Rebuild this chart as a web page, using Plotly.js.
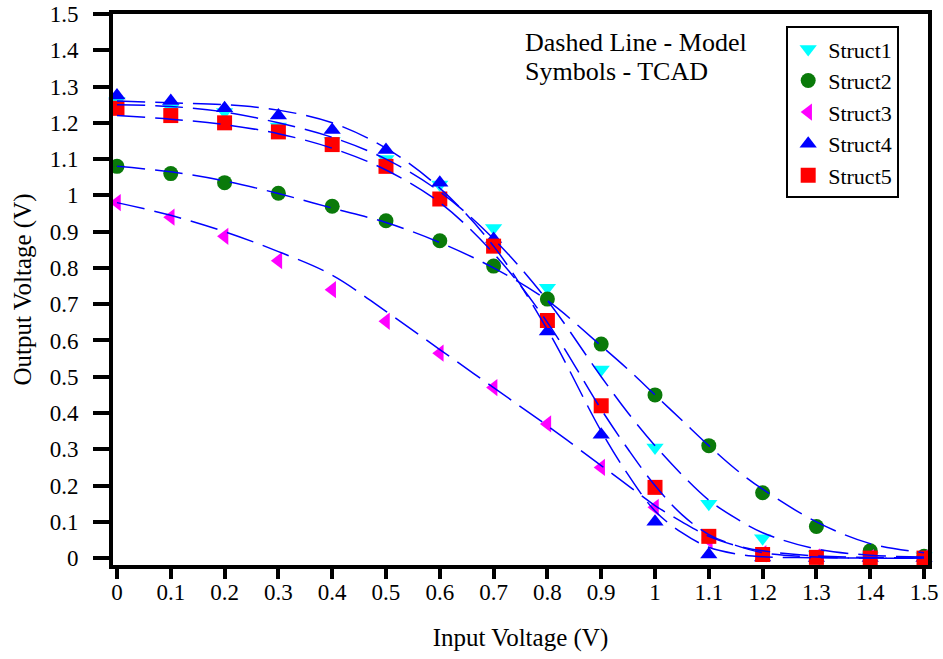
<!DOCTYPE html>
<html>
<head>
<meta charset="utf-8">
<script src="https://cdn.plot.ly/plotly-3.0.1.min.js"></script>
<style>html,body{margin:0;padding:0;background:#fff;}#chart{width:943px;height:659px;}</style>
</head>
<body>
<div id="chart"></div>
<script>
// TCAD sample points (symbols)
const vin = [0, 0.1, 0.2, 0.3, 0.4, 0.5, 0.6, 0.7, 0.8, 0.9, 1.0, 1.1, 1.2, 1.3, 1.4, 1.5];
const struct1 = [1.26, 1.24, 1.23, 1.19, 1.15, 1.10, 1.03, 0.91, 0.745, 0.52, 0.305, 0.15, 0.055, 0.01, 0.005, 0.005];
const struct2 = [1.08, 1.06, 1.035, 1.006, 0.97, 0.93, 0.875, 0.805, 0.714, 0.59, 0.45, 0.31, 0.18, 0.087, 0.02, 0.005];
const struct3 = [0.98, 0.94, 0.887, 0.82, 0.74, 0.653, 0.565, 0.47, 0.37, 0.25, 0.14, 0.05, 0.012, 0.003, 0.001, 0.0];
const struct4 = [1.275, 1.26, 1.24, 1.22, 1.18, 1.125, 1.035, 0.88, 0.625, 0.34, 0.10, 0.01, 0.002, 0.0, 0.0, 0.0];
const struct5 = [1.24, 1.22, 1.20, 1.175, 1.14, 1.08, 0.99, 0.86, 0.655, 0.42, 0.195, 0.06, 0.01, 0.002, 0.0, 0.0];

// Model curves (dashed lines)
const vinModel = [0, 0.1, 0.2, 0.3, 0.4, 0.5, 0.6, 0.7, 0.8, 0.9, 0.95, 1.0, 1.05, 1.1, 1.15, 1.2, 1.3, 1.4, 1.5];
const model1 = [1.25, 1.245, 1.23, 1.20, 1.16, 1.10, 1.01, 0.88, 0.71, 0.50, 0.40, 0.31, 0.23, 0.16, 0.11, 0.07, 0.025, 0.008, 0.003];
const model2 = [1.08, 1.065, 1.04, 1.005, 0.965, 0.925, 0.87, 0.80, 0.71, 0.585, 0.52, 0.45, 0.38, 0.31, 0.245, 0.19, 0.10, 0.04, 0.015];
const model3 = [0.98, 0.945, 0.90, 0.845, 0.78, 0.68, 0.575, 0.47, 0.365, 0.255, 0.2, 0.145, 0.10, 0.06, 0.035, 0.02, 0.006, 0.002, 0.0];
const model4 = [1.26, 1.255, 1.25, 1.235, 1.20, 1.13, 1.02, 0.86, 0.63, 0.35, 0.23, 0.13, 0.07, 0.03, 0.012, 0.004, 0.001, 0.0, 0.0];
const model5 = [1.22, 1.21, 1.195, 1.17, 1.13, 1.07, 0.98, 0.84, 0.65, 0.41, 0.3, 0.20, 0.12, 0.065, 0.035, 0.015, 0.003, 0.0, 0.0];

const tickVals = [0, 0.1, 0.2, 0.3, 0.4, 0.5, 0.6, 0.7, 0.8, 0.9, 1.0, 1.1, 1.2, 1.3, 1.4, 1.5];
const tickText = ["0", "0.1", "0.2", "0.3", "0.4", "0.5", "0.6", "0.7", "0.8", "0.9", "1", "1.1", "1.2", "1.3", "1.4", "1.5"];

const names = ["Struct1", "Struct2", "Struct3", "Struct4", "Struct5"];
const series = [struct1, struct2, struct3, struct4, struct5];
const models = [model1, model2, model3, model4, model5];
const symbols = ["triangle-down", "circle", "triangle-left", "triangle-up", "square"];
const colors = ["#00ffff", "#0a7a0a", "#ff00ff", "#0000ff", "#ff0000"];

const FONT = "'Liberation Serif', 'Times New Roman', serif";
const traces = [];
series.forEach((s, i) => {
  traces.push({
    x: vin, y: s, type: "scatter", mode: "markers", name: names[i],
    marker: {symbol: symbols[i], color: colors[i], size: 15, line: {width: 0}},
    cliponaxis: false
  });
});
models.forEach((m, i) => {
  traces.push({
    x: vinModel, y: m, type: "scatter", mode: "lines", showlegend: false,
    line: {color: "#0000ff", width: 1.5, dash: "28px,10px", shape: "spline", smoothing: 1.0},
    hoverinfo: "skip"
  });
});

const layout = {
  width: 943, height: 659,
  margin: {l: 113, r: 15, t: 14, b: 94},
  paper_bgcolor: "#ffffff", plot_bgcolor: "#ffffff",
  font: {family: FONT, size: 23, color: "#000"},
  showlegend: true,
  legend: {
    x: 0.826, y: 0.978, xanchor: "left", yanchor: "top",
    bgcolor: "#ffffff", bordercolor: "#000", borderwidth: 2,
    font: {family: FONT, size: 22, color: "#000"},
    tracegroupgap: 0, itemwidth: 30
  },
  xaxis: {
    range: [-0.0074, 1.5074],
    tickvals: tickVals, ticktext: tickText,
    showgrid: false, zeroline: false,
    showline: true, mirror: true, linecolor: "#000", linewidth: 4,
    ticks: "outside", ticklen: 10, tickwidth: 4, tickcolor: "#000",
    ticklabelstandoff: -7,
    tickfont: {family: FONT, size: 23, color: "#000"},
    title: {text: "Input Voltage (V)", font: {family: FONT, size: 25, color: "#000"}, standoff: 26}
  },
  yaxis: {
    range: [-0.019, 1.5],
    tickvals: tickVals, ticktext: tickText,
    showgrid: false, zeroline: false,
    showline: true, mirror: true, linecolor: "#000", linewidth: 4,
    ticks: "outside", ticklen: 16, tickwidth: 4, tickcolor: "#000",
    ticklabelstandoff: 10,
    tickfont: {family: FONT, size: 23, color: "#000"},
    title: {text: "Output Voltage (V)", font: {family: FONT, size: 25, color: "#000"}, standoff: 12}
  },
  annotations: [
    {xref: "paper", yref: "paper", x: 0.503, y: 0.949, xanchor: "left", yanchor: "middle",
     text: "Dashed Line - Model", showarrow: false, font: {family: FONT, size: 26, color: "#000"}},
    {xref: "paper", yref: "paper", x: 0.503, y: 0.895, xanchor: "left", yanchor: "middle",
     text: "Symbols - TCAD", showarrow: false, font: {family: FONT, size: 26, color: "#000"}}
  ]
};

Plotly.newPlot("chart", traces, layout, {displayModeBar: false, staticPlot: true});
</script>
</body>
</html>
